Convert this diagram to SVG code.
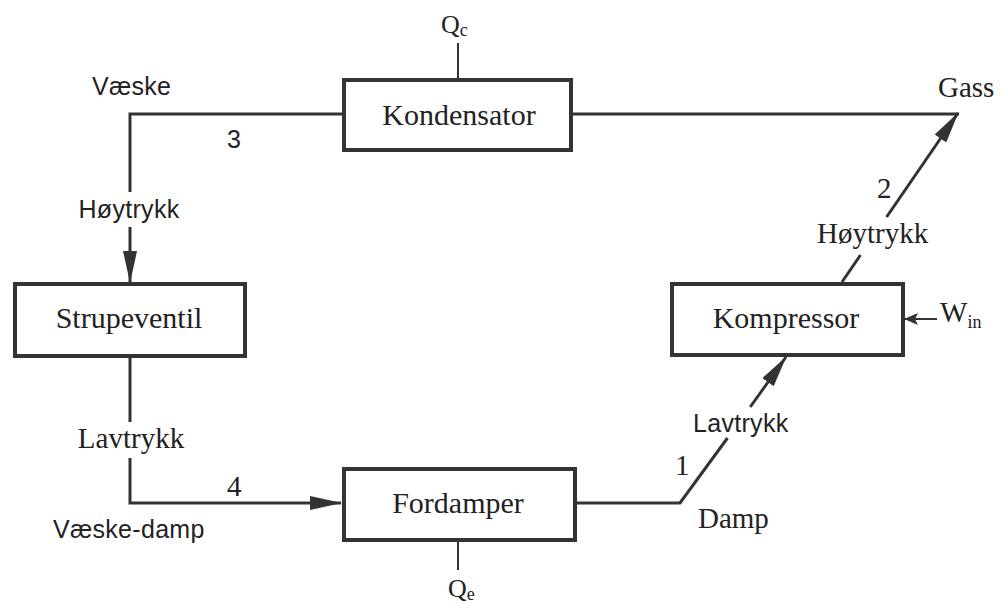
<svg xmlns="http://www.w3.org/2000/svg" width="1002" height="603" viewBox="0 0 1002 603">
  <style>
    .box { fill: #ffffff; stroke: #333333; stroke-width: 4; }
    .pipe { fill: none; stroke: #333333; stroke-width: 3; }
    .thin { fill: none; stroke: #333333; stroke-width: 2; }
    .serif { font-family: "Liberation Serif", "Times New Roman", serif; fill: #222222; }
    .sans { font-family: "Liberation Sans", Arial, sans-serif; fill: #222222; font-size: 25px; letter-spacing: 0.3px; }
    .name { font-size: 30px; text-anchor: middle; }
    .lbl { font-size: 29px; }
    .q { font-size: 26px; }
    .sub { font-size: 18px; }
  </style>
  <defs>
    <marker id="head" markerUnits="userSpaceOnUse" markerWidth="32" markerHeight="14" refX="31" refY="7" orient="auto">
      <path d="M0,0 L32,7 L0,14 Z" fill="#333333"/>
    </marker>
    <marker id="headSmall" markerUnits="userSpaceOnUse" markerWidth="14" markerHeight="12" refX="13" refY="6" orient="auto">
      <path d="M0,0 L14,6 L0,12 L3,6 Z" fill="#333333"/>
    </marker>
  </defs>
  <rect width="1002" height="603" fill="#ffffff"/>

  <!-- connectors -->
  <g id="connectors">
    <!-- condenser outlet to expansion valve -->
    <path class="pipe" d="M344,114 L130,114 L130,192 M130,227 L130,282" marker-end="url(#head)"/>
    <!-- expansion valve to evaporator -->
    <path class="pipe" d="M130,358 L130,422 M130,458 L130,503 L341,503" marker-end="url(#head)"/>
    <!-- evaporator to compressor -->
    <path class="pipe" d="M577,503 L680,503 L727.5,438 M750.2,407 L786,357" marker-end="url(#head)"/>
    <!-- compressor to condenser -->
    <path class="pipe" d="M842,282 L860.5,255 M886.6,217 L958,113" marker-end="url(#head)"/>
    <path class="pipe" d="M573,114 L959,114"/>
    <!-- heat and work lines -->
    <path class="thin" d="M458,43 L458,78"/>
    <path class="thin" d="M458,542 L458,570"/>
    <path class="thin" d="M937,319 L905,319" marker-end="url(#headSmall)"/>
  </g>

  <g id="kondensator">
    <rect class="box" x="344" y="80" width="227" height="70"/>
    <text class="serif name" x="459" y="125">Kondensator</text>
  </g>

  <g id="strupeventil">
    <rect class="box" x="15" y="284" width="230" height="72"/>
    <text class="serif name" x="129" y="328">Strupeventil</text>
  </g>

  <g id="fordamper">
    <rect class="box" x="344" y="469" width="231" height="71"/>
    <text class="serif name" x="458" y="513">Fordamper</text>
  </g>

  <g id="kompressor">
    <rect class="box" x="672" y="284" width="231" height="71"/>
    <text class="serif name" x="786" y="328">Kompressor</text>
  </g>

  <!-- labels -->
  <g id="labels">
    <text class="serif q" x="441" y="33">Q<tspan class="sub" dy="3">c</tspan></text>
    <text class="serif q" x="448" y="597">Q<tspan class="sub" dy="3">e</tspan></text>
    <text class="serif" font-size="29" x="940" y="322">W<tspan class="sub" dy="6">in</tspan></text>

    <text class="sans" x="92" y="95">Væske</text>
    <text class="sans" x="227" y="148">3</text>
    <text class="sans" x="129" y="218" text-anchor="middle">Høytrykk</text>
    <text class="serif lbl" x="131" y="448" text-anchor="middle">Lavtrykk</text>
    <text class="serif lbl" x="227" y="496">4</text>
    <text class="sans" x="53" y="538">Væske-damp</text>

    <text class="serif lbl" x="675" y="475">1</text>
    <text class="serif lbl" x="698" y="528">Damp</text>
    <text class="sans" x="693" y="432">Lavtrykk</text>

    <text class="serif lbl" x="817" y="243">Høytrykk</text>
    <text class="serif lbl" x="877" y="198">2</text>
    <text class="serif lbl" x="938" y="97">Gass</text>
  </g>
</svg>
